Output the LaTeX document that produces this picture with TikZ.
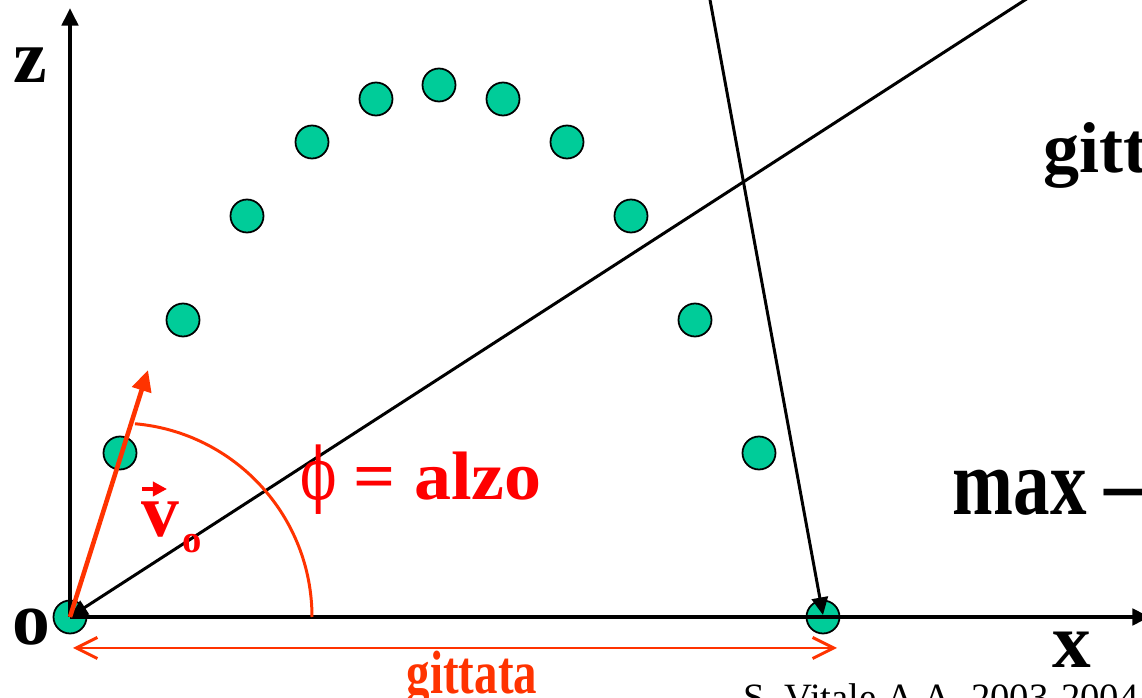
\documentclass[tikz,border=0pt]{standalone}
\usepackage{fontspec}
\setmainfont{Liberation Serif}
\newfontfamily\phifont{DejaVu Serif}
\usetikzlibrary{arrows.meta}

\definecolor{dotgreen}{HTML}{00CC99}
\definecolor{arcred}{HTML}{FF3300}

\tikzset{
  pt/.style={circle, draw=black, line width=0.5pt, fill=dotgreen, minimum size=0.33cm, inner sep=0pt},
  axislabel/.style={font=\fontsize{21.5}{26}\selectfont\bfseries, inner sep=0pt, anchor=base west},
  tri/.style={-{Triangle[length=5pt,width=4.6pt]}}
}

\begin{document}
\begin{tikzpicture}

\useasboundingbox (0,0) rectangle (11.42,6.98);
\clip (0,0) rectangle (11.42,6.98);

%Trajectory Points

\node [pt] (p0) at (0.70,0.81) {};
\node [pt] (p1) at (1.20,2.45) {};
\node [pt] (p2) at (1.83,3.78) {};
\node [pt] (p3) at (2.47,4.82) {};
\node [pt] (p4) at (3.12,5.56) {};
\node [pt] (p5) at (3.76,5.99) {};
\node [pt] (p6) at (4.39,6.13) {};
\node [pt] (p7) at (5.03,5.99) {};
\node [pt] (p8) at (5.67,5.56) {};
\node [pt] (p9) at (6.31,4.82) {};
\node [pt] (p10) at (6.95,3.78) {};
\node [pt] (p11) at (7.59,2.45) {};
\node [pt] (p12) at (8.23,0.81) {};

%Axes Drawing

\coordinate (O) at (0.70,0.81);
\coordinate (ztip) at (0.70,6.90);
\coordinate (xtip) at (11.50,0.81);

\draw [line width=1.1pt, tri] (O) -- (ztip);
\draw [line width=1.1pt, tri] (O) -- (xtip);

\node [axislabel] (zlab) at (0.13,6.15) {z};
\node [axislabel] (olab) at (0.12,0.53) {o};
\node [axislabel, font=\fontsize{22}{26}\selectfont\bfseries] (xlab) at (10.52,0.31) {x};

%Sight Lines

\coordinate (far) at (10.59,7.20);
\coordinate (top) at (7.06,7.20);
\coordinate (hit) at (8.23,0.83);

\draw [line width=0.85pt, tri] (far) -- (O);
\draw [line width=0.85pt, tri] (top) -- (hit);

%Launch Velocity and Angle

\coordinate (vtip) at (1.48,3.28);
\draw [arcred, line width=1.3pt, -{Triangle[length=6pt,width=5.5pt]}] (O) -- (vtip);
\draw [arcred, line width=0.85pt] (3.12,0.81) arc [start angle=0, end angle=85, radius=1.94];

\node [axislabel, red, font=\fontsize{21.5}{25}\selectfont\bfseries] (vlab) at (1.41,1.61) {v};
\draw [red, line width=1.2pt, -{Triangle[length=4pt,width=4pt]}] (1.42,2.09) -- (1.67,2.09);
\node [axislabel, red, font=\fontsize{11}{13}\selectfont\bfseries] (vsub) at (1.82,1.45) {o};

\node [axislabel, red, font=\fontsize{19.5}{23}\selectfont] (phi) at (3.00,1.98) {\phifont\scalebox{0.78}[1.05]{ϕ}};
\node [axislabel, red, font=\fontsize{19.5}{23}\selectfont\bfseries] (alzo) at (3.53,1.98) {\scalebox{1.08}[1]{= alzo}};

%Range

\coordinate (rl) at (0.73,0.50);
\coordinate (rr) at (8.37,0.50);
\draw [arcred, line width=0.85pt, {Straight Barb[length=6pt,width=6pt]}-{Straight Barb[length=6pt,width=6pt]}] (rl) -- (rr);
\node [anchor=base, inner sep=0pt, text=arcred, font=\fontsize{15}{18}\selectfont\bfseries] (gitlab) at (4.72,0.05) {\scalebox{0.89}[1.16]{gittata}};

%Side Texts

\node [axislabel, font=\fontsize{20.5}{24}\selectfont\bfseries] (gitt) at (10.43,5.25) {gitt};
\node [axislabel, font=\fontsize{20}{24}\selectfont\bfseries] (maxlab) at (9.52,1.83) {\scalebox{1.04}[1.34]{max —}};

\node [anchor=base west, inner sep=0pt, font=\fontsize{11}{13}\selectfont] (credit) at (7.43,-0.13) {S. Vitale A.A. 2003-2004};

\end{tikzpicture}
\end{document}
